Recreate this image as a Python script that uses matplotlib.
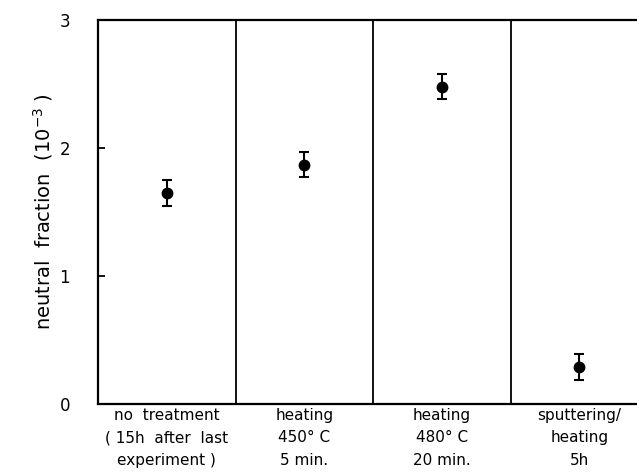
import matplotlib
matplotlib.use("Agg")
import matplotlib.pyplot as plt

# ── Data ─────────────────────────────────────────────────────────────────────
categories = [
    "no  treatment\n( 15h  after  last\nexperiment )",
    "heating\n450° C\n5 min.",
    "heating\n480° C\n20 min.",
    "sputtering/\nheating\n5h",
]
neutral_fraction = [1.65, 1.87, 2.48, 0.29]   # units of 1e-3
errors = [0.10, 0.10, 0.10, 0.10]
y_ticks = [0, 1, 2, 3]

# ── Figure ───────────────────────────────────────────────────────────────────
plt.rcParams["font.family"] = ["DejaVu Sans"]
plt.rcParams["mathtext.default"] = "regular"

fig = plt.figure(figsize=(6.37, 4.72), dpi=100)
# axes extend past the right edge of the figure, as in the original scan
ax = fig.add_axes([98 / 637, 68 / 472, 550 / 637, 384 / 472])

x = [i + 0.5 for i in range(len(categories))]
ax.errorbar(x, neutral_fraction, yerr=errors, fmt="o", color="black",
            markersize=7.5, elinewidth=1.5, capsize=3.5, capthick=1.5)

# panel dividers
for i in range(1, len(categories)):
    ax.axvline(i, color="black", linewidth=1.3)

ax.set_xlim(0, len(categories))
ax.set_ylim(0, 3)
ax.set_yticks(y_ticks)
ax.set_yticklabels([str(t) for t in y_ticks], fontsize=12)
ax.tick_params(axis="y", direction="in", length=5, width=1.3, pad=20)

ax.set_xticks(x)
ax.set_xticklabels(categories, fontsize=11, linespacing=1.6)
ax.tick_params(axis="x", length=0, pad=3)

for s in ax.spines.values():
    s.set_linewidth(1.6)

ax.set_ylabel("neutral  fraction  (10$^{-3}$ )", fontsize=14, labelpad=3)

fig.savefig("out.png", dpi=100)
